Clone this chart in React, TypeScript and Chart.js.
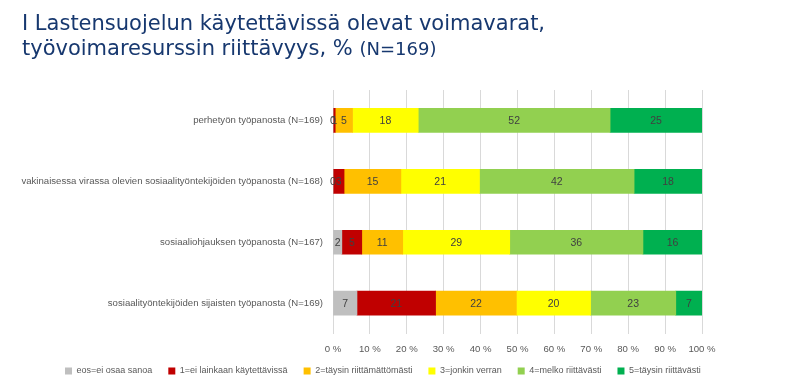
import { useEffect, useRef } from "react";
import { Chart, registerables } from "chart.js";

Chart.register(...registerables);

const categories = [
  "perhetyön työpanosta (N=169)",
  "vakinaisessa virassa olevien sosiaalityöntekijöiden työpanosta (N=168)",
  "sosiaaliohjauksen työpanosta (N=167)",
  "sosiaalityöntekijöiden sijaisten työpanosta (N=169)",
];

const seriesLabels = [
  "eos=ei osaa sanoa",
  "1=ei lainkaan käytettävissä",
  "2=täysin riittämättömästi",
  "3=jonkin verran",
  "4=melko riittävästi",
  "5=täysin riittävästi",
];

const eos = [0, 0, 2.4, 6.5];
const eiLainkaan = [0.6, 3.0, 5.4, 21.3];
const taysinRiittamattomasti = [4.7, 15.4, 11.1, 21.9];
const jonkinVerran = [17.8, 21.3, 29.0, 20.1];
const melkoRiittavasti = [52.0, 41.9, 36.1, 23.1];
const taysinRiittavasti = [24.9, 18.4, 16.0, 7.1];

const xTickValues = [0, 10, 20, 30, 40, 50, 60, 70, 80, 90, 100];

const seriesColors = ["#BFBFBF", "#C00000", "#FFC000", "#FFFF00", "#92D050", "#00B050"];

const FONT = '"Liberation Sans", Arial, sans-serif';

export default function App() {
  const ref = useRef<HTMLCanvasElement>(null);

  useEffect(() => {
    const series = [eos, eiLainkaan, taysinRiittamattomasti, jonkinVerran, melkoRiittavasti, taysinRiittavasti];

    const valueLabels = {
      id: "valueLabels",
      afterDatasetsDraw(chart: any) {
        const ctx = chart.ctx;
        ctx.save();
        ctx.font = `10.5px ${FONT}`;
        ctx.fillStyle = "#404040";
        ctx.textAlign = "center";
        ctx.textBaseline = "middle";
        chart.data.datasets.forEach((ds: any, i: number) => {
          const meta = chart.getDatasetMeta(i);
          meta.data.forEach((el: any, j: number) => {
            const v = ds.data[j] as number;
            const p = el.getProps(["x", "base", "y"], true);
            ctx.fillText(String(Math.round(v)), (p.x + p.base) / 2, p.y + 0.5);
          });
        });
        ctx.restore();
      },
    };

    // place the legend row where the reference has it
    const legendPlacer = {
      id: "legendPlacer",
      afterLayout(chart: any) {
        const lg = chart.legend;
        if (!lg) return;
        const pad = lg.options.labels.padding;
        const lw = lg.lineWidths ? lg.lineWidths[0] : 0;
        const curX = (lg.left + pad + lg.right - lw) / 2;
        const dx = 65 - curX;
        lg.left += dx;
        lg.right += dx;
        const fontSize = lg.options.labels.font.size;
        const targetTop = 371 - pad - fontSize / 2;
        const dy = targetTop - lg.top;
        lg.top += dy;
        lg.bottom += dy;
      },
    };

    const chart = new Chart(ref.current!, {
      type: "bar",
      data: {
        labels: categories,
        datasets: series.map((d, i) => ({
          label: seriesLabels[i],
          data: d,
          backgroundColor: seriesColors[i],
          borderWidth: 0,
          barThickness: 24,
        })),
      },
      options: {
        indexAxis: "y",
        responsive: false,
        animation: false,
        layout: { padding: { top: 90, left: 0, right: 88, bottom: 0.4 } },
        scales: {
          x: {
            stacked: true,
            min: 0,
            max: 100,
            afterBuildTicks: (s: any) => {
              s.ticks = xTickValues.map((v) => ({ value: v }));
            },
            ticks: {
              callback: (v: any) => `${v} %`,
              color: "#595959",
              font: { family: FONT, size: 9.6 },
              padding: 10,
              maxRotation: 0,
              autoSkip: false,
            },
            grid: { color: "#D9D9D9", drawTicks: false },
            border: { display: false },
            afterFit: (s: any) => {
              s.height = 22;
            },
          },
          y: {
            stacked: true,
            grid: { display: false, drawTicks: false },
            border: { display: false },
            ticks: {
              color: "#595959",
              font: { family: FONT, size: 9.6 },
              padding: 10,
            },
            afterFit: (s: any) => {
              s.width = 333;
            },
          },
        },
        plugins: {
          legend: {
            position: "bottom",
            labels: {
              boxWidth: 7,
              boxHeight: 7,
              padding: 16,
              color: "#595959",
              font: { family: FONT, size: 9 },
            },
          },
          tooltip: { enabled: false },
        },
      } as any,
      plugins: [valueLabels, legendPlacer],
    });
    return () => chart.destroy();
  }, []);

  return (
    <div style={{ position: "absolute", left: 0, top: 0, width: 790, height: 391, background: "#fff", overflow: "hidden" }}>
      <canvas ref={ref} width={790} height={391} style={{ display: "block" }} />
      <div
        style={{
          position: "absolute",
          left: 22,
          top: 10.5,
          fontFamily: '"DejaVu Sans", Verdana, sans-serif',
          fontSize: 21,
          lineHeight: "25px",
          color: "#17386F",
          whiteSpace: "nowrap",
        }}
      >
        I Lastensuojelun käytettävissä olevat voimavarat,
        <br />
        työvoimaresurssin riittävyys, % <span style={{ fontSize: 18 }}>(N=169)</span>
      </div>
    </div>
  );
}
